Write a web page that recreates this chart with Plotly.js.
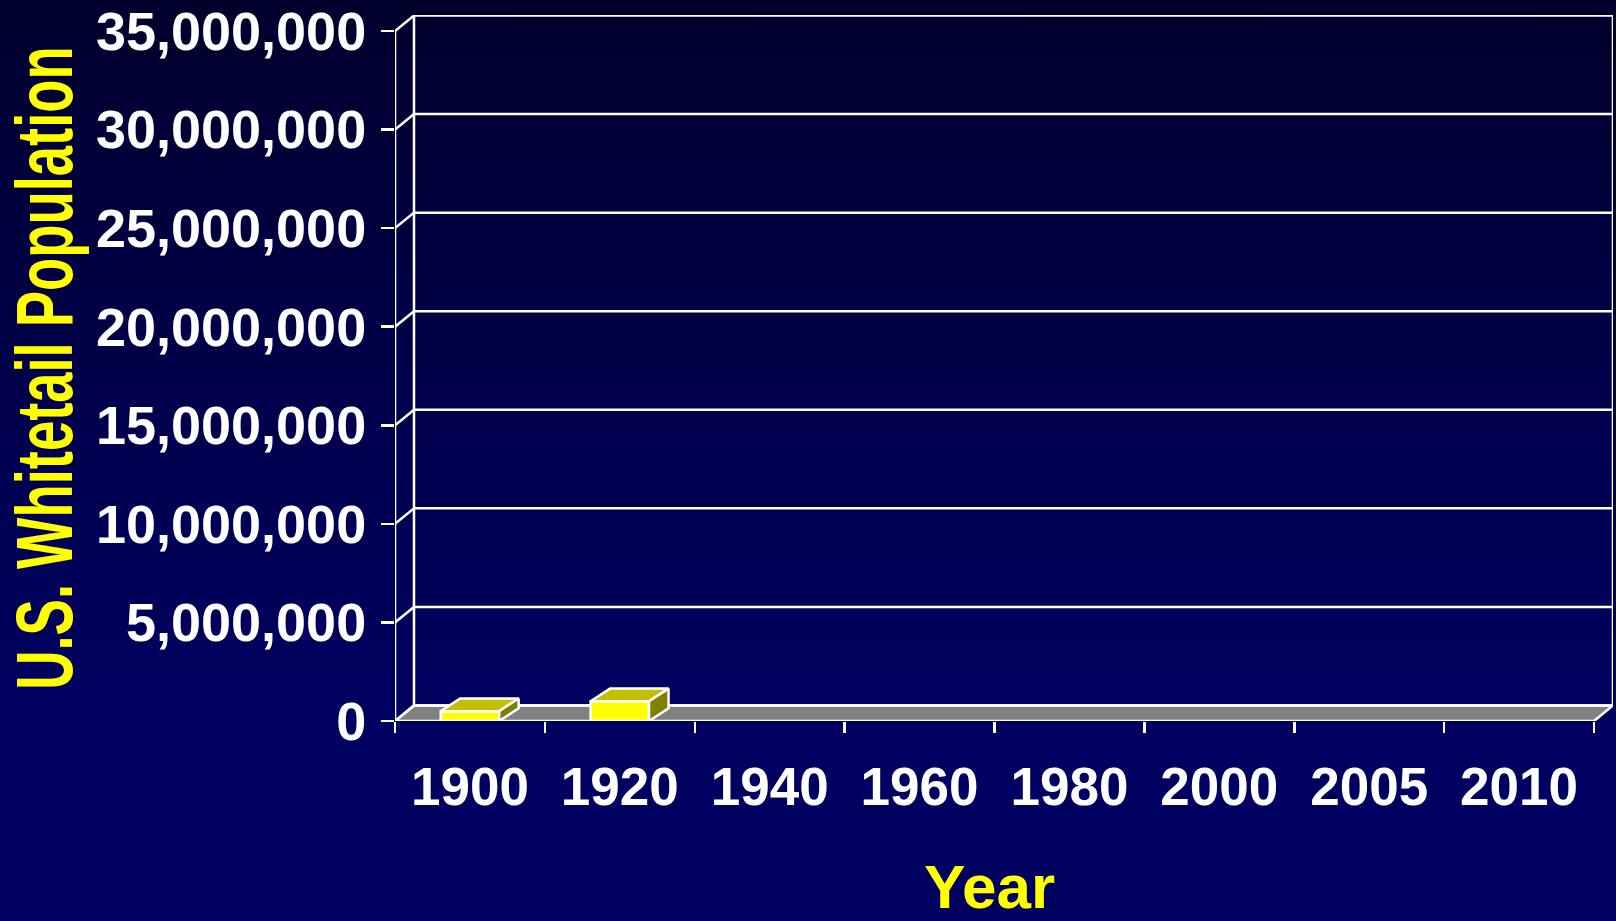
<!DOCTYPE html>
<html>
<head>
<meta charset="utf-8">
<script src="https://cdn.plot.ly/plotly-3.0.1.min.js"></script>
<style>
  html, body { margin: 0; padding: 0; }
  body { width: 1616px; height: 921px; overflow: hidden;
    background: linear-gradient(to bottom, #00002c 0%, #00003f 25%, #00004f 48%, #00005c 68%, #000060 80%, #000060 100%); }
  #chart { width: 1616px; height: 921px; }
</style>
</head>
<body>
<div id="chart"></div>
<script>
// ---- data ----
const years = ['1900', '1920', '1940', '1960', '1980', '2000', '2005', '2010'];
const population = [500000, 1000000, null, null, null, null, null, null];
const yTickValues = [0, 5000000, 10000000, 15000000, 20000000, 25000000, 30000000, 35000000];
const yTickLabels = ['0', '5,000,000', '10,000,000', '15,000,000', '20,000,000', '25,000,000', '30,000,000', '35,000,000'];
const xTitle = 'Year';
const yTitle = 'U.S. Whitetail Population';

// ---- layout geometry (pixels) ----
const W = 1616, H = 921;
const margin = {l: 395, r: 3, t: 15, b: 200};
const plotW = W - margin.l - margin.r;   // includes back-wall depth
const plotH = H - margin.t - margin.b;
const frontW = 1199, frontH = 690;       // front face of the 3-D box
const yMax = yTickValues[yTickValues.length - 1];
const nCat = years.length;
const pxX = nCat / frontW;               // data units per pixel
const pxY = yMax / frontH;
const xLo = -0.5, xHi = nCat - 0.5;
const xRange = [xLo, xLo + plotW * pxX];
const yRange = [0, plotH * pxY];
const wdx = 19 * pxX, wdy = 15.5 * pxY;     // wall depth offset
const bdx = 19.5 * pxX, bdy = 12.7 * pxY;   // bar depth offset
const barW = 0.39;

const WHITE = '#ffffff';
const LW = 2.5;
const FONT = 'Liberation Sans, Arial, sans-serif';

const xIdx = years.map((_, i) => i);
const boundaries = years.map((_, i) => i - 0.5).concat([nCat - 0.5]);

// ---- shapes: floor, walls, grid ----
const shapes = [];
// floor slab
shapes.push({
  type: 'path', xref: 'x', yref: 'y', layer: 'below',
  path: `M ${xLo},0 L ${xHi},0 L ${xHi + wdx},${wdy} L ${xLo + wdx},${wdy} Z`,
  fillcolor: '#808080', line: {color: WHITE, width: LW}
});
// back wall gridlines + left-wall diagonals
yTickValues.forEach(v => {
  shapes.push({type: 'line', xref: 'x', yref: 'y', layer: 'below',
    x0: xLo + wdx, x1: xHi + wdx, y0: v + wdy, y1: v + wdy, line: {color: WHITE, width: LW}});
  shapes.push({type: 'line', xref: 'x', yref: 'y', layer: 'below',
    x0: xLo, x1: xLo + wdx, y0: v, y1: v + wdy, line: {color: WHITE, width: LW}});
});
// back wall verticals
shapes.push({type: 'line', xref: 'x', yref: 'y', layer: 'below',
  x0: xLo + wdx, x1: xLo + wdx, y0: wdy, y1: yMax + wdy, line: {color: WHITE, width: LW}});
shapes.push({type: 'line', xref: 'x', yref: 'y', layer: 'below',
  x0: xHi + wdx, x1: xHi + wdx, y0: wdy, y1: yMax + wdy, line: {color: WHITE, width: LW}});
// front value-axis line
shapes.push({type: 'line', xref: 'x', yref: 'y', layer: 'above',
  x0: xLo, x1: xLo, y0: 0, y1: yMax, line: {color: WHITE, width: LW}});

// ---- traces ----
const traces = [];
traces.push({
  type: 'bar', x: xIdx, y: population, width: barW,
  marker: {color: '#ffff00', line: {color: WHITE, width: LW}},
  hoverinfo: 'skip', showlegend: false
});
population.forEach((v, i) => {
  if (v === null) return;
  const l = i - barW / 2, r = i + barW / 2;
  // top face
  traces.push({type: 'scatter', mode: 'lines', fill: 'toself', fillcolor: '#c4c000',
    x: [l, r, r + bdx, l + bdx, l], y: [v, v, v + bdy, v + bdy, v],
    line: {color: WHITE, width: LW}, hoverinfo: 'skip', showlegend: false});
  // side face
  traces.push({type: 'scatter', mode: 'lines', fill: 'toself', fillcolor: '#808000',
    x: [r, r + bdx, r + bdx, r, r], y: [0, bdy, v + bdy, v, 0],
    line: {color: WHITE, width: LW}, hoverinfo: 'skip', showlegend: false});
});

const layout = {
  width: W, height: H, margin: margin,
  paper_bgcolor: 'rgba(0,0,0,0)', plot_bgcolor: 'rgba(0,0,0,0)',
  showlegend: false, hovermode: false,
  font: {family: FONT, color: WHITE},
  xaxis: {
    type: 'linear', range: xRange, fixedrange: true,
    tickmode: 'array', tickvals: xIdx, ticktext: years, ticks: '',
    tickfont: {family: FONT, size: 53, color: WHITE, weight: 'bold'},
    ticklabelstandoff: 30,
    minor: {tickmode: 'array', tickvals: boundaries, ticks: 'outside', ticklen: 11,
            tickwidth: LW, tickcolor: WHITE, showgrid: false},
    showgrid: false, zeroline: false, showline: false,
    title: {text: xTitle, font: {family: FONT, size: 62, color: '#ffff00', weight: 'bold'}, standoff: 53}
  },
  yaxis: {
    type: 'linear', range: yRange, fixedrange: true,
    tickmode: 'array', tickvals: yTickValues, ticktext: yTickLabels,
    ticks: 'outside', ticklen: 13, tickwidth: LW, tickcolor: WHITE,
    tickfont: {family: FONT, size: 54, color: WHITE, weight: 'bold'},
    ticklabelstandoff: 4,
    showgrid: false, zeroline: false, showline: false,
    title: {text: yTitle, font: {family: FONT, size: 80, color: '#ffff00', weight: 'bold'}, standoff: 20}
  },
  shapes: shapes
};

Plotly.newPlot('chart', traces, layout, {displayModeBar: false, staticPlot: true}).then(gd => {
  const t = gd.querySelector('.g-ytitle text');
  if (t) {
    const x = +t.getAttribute('x'), y = +t.getAttribute('y');
    t.setAttribute('transform', `rotate(-90,${x},${y}) translate(${x},${y}) scale(0.68,1) translate(${-x},${-y})`);
  }
  const xt = gd.querySelector('.g-xtitle text');
  if (xt) {
    // centre the title under the front face of the box rather than the whole plot area
    xt.setAttribute('transform', `translate(${-(plotW - frontW) / 2 - 5},0)`);
  }
});
</script>
</body>
</html>
